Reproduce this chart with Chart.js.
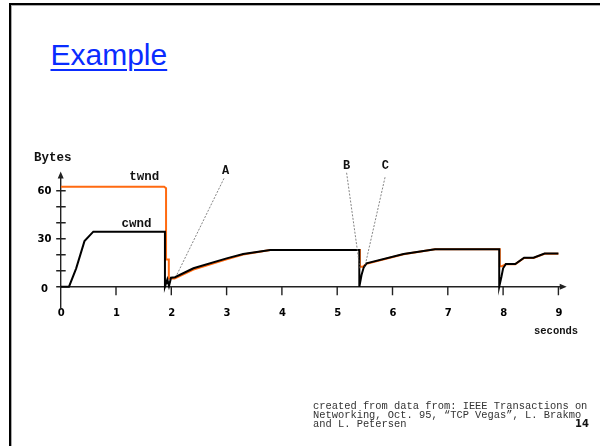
<!DOCTYPE html>
<html>
<head>
<meta charset="utf-8">
<script src="https://cdn.jsdelivr.net/npm/chart.js@4"></script>
<style>
  html, body { margin: 0; padding: 0; background: #fff; }
  body { width: 600px; height: 446px; position: relative; overflow: hidden; }
  #frame { position: absolute; left: 9px; top: 3px; width: 700px; height: 600px;
           border-top: 2px solid #000; border-left: 2px solid #000; }
  #frame::after { content: ''; position: absolute; left: 0; top: 0; right: 0; bottom: 0;
           border-top: 1px solid #aaa; border-left: 1px solid #aaa; }
  #title { position: absolute; left: 50.5px; top: 39.6px; font: 30px "Liberation Sans", Arial, sans-serif;
           line-height: 30px; color: #0a2cff; text-decoration: underline;
           text-decoration-thickness: 2px; text-underline-offset: 4px; }
  #source { position: absolute; left: 313px; top: 402.2px; font: 10.4px "Liberation Mono", monospace;
            line-height: 9px; color: #333; white-space: pre; }
  #page { position: absolute; left: 575px; top: 418.8px; font: bold 10px "DejaVu Sans", sans-serif;
          line-height: 10px; color: #111; }
  #chart { position: absolute; left: 0; top: 0; }
</style>
</head>
<body>
<div id="frame"></div>
<div id="title">Example</div>
<canvas id="chart" width="600" height="446"></canvas>
<div id="source">created from data from: IEEE Transactions on
Networking, Oct. 95, “TCP Vegas”, L. Brakmo
and L. Petersen</div>
<div id="page">14</div>
<script>
// tempo (s) e janela (bytes)
const cwndTime  = [0, 0.15, 0.28, 0.43, 0.59, 1.885, 1.885, 1.928, 1.958, 1.995, 2.067, 2.4, 3.0, 3.3, 3.79, 5.4, 5.4, 5.44, 5.48, 5.53, 6.2, 6.77, 7.93, 7.93, 7.97, 8.0, 8.05, 8.22, 8.38, 8.55, 8.75, 9.0];
const cwndBytes = [0, 0, 11.5, 28.5, 34.4, 34.4, 0, 4.6, 0.4, 5.6, 5.9, 11.5, 17.7, 20.4, 22.9, 22.9, 0, 7.3, 12.1, 14.6, 20.4, 23.4, 23.4, 0, 6.2, 11.5, 14.2, 14.2, 18.1, 18.1, 20.7, 20.7];

const twndTime  = [0, 1.87, 1.905, 1.905, 1.955, 1.955, 2.06, 2.4, 3.0, 3.3, 3.79, 5.41, 5.41, 5.46, 5.53, 6.2, 6.77, 7.94, 7.94, 7.98, 8.05, 8.22, 8.38, 8.55, 8.75, 9.0];
const twndBytes = [62.5, 62.5, 61.5, 17, 17, 5.2, 5.2, 10.7, 17.1, 20.1, 22.9, 22.9, 12.5, 12.5, 14.3, 20.3, 23.4, 23.4, 12.8, 12.8, 14.1, 14.1, 18.0, 18.0, 20.6, 20.6];

const xTickLabels = ['0', '1', '2', '3', '4', '5', '6', '7', '8', '9'];
const yTickValues = [0, 10, 20, 30, 40, 50, 60];
const yTickLabels = { 0: '0', 30: '30', 60: '60' };

// anotações em coordenadas do gráfico
const notes = [
  { text: 'A', x: 2.98, y: 70.2, from: [2.953, 67.7], to: [2.098, 7.3] },
  { text: 'B', x: 5.17, y: 73.0, from: [5.17, 71.2], to: [5.41, 11.5] },
  { text: 'C', x: 5.87, y: 73.0, from: [5.865, 68.4], to: [5.50, 12.5] }
];

function toPoints(xs, ys) {
  return xs.map((x, i) => ({ x: x, y: ys[i] }));
}

const axesPlugin = {
  id: 'axes',
  beforeDatasetsDraw(chart) {
    const c = chart.ctx, x = chart.scales.x, y = chart.scales.y;
    const x0 = x.getPixelForValue(0), y0 = y.getPixelForValue(0);
    const xEnd = x.getPixelForValue(x.max), yTop = y.getPixelForValue(y.max);
    c.save();
    c.strokeStyle = '#222';
    c.fillStyle = '#222';
    c.lineWidth = 1.4;
    c.beginPath();
    c.moveTo(x0, yTop + 4);
    c.lineTo(x0, y.getPixelForValue(-13.3));
    c.moveTo(x0, y0);
    c.lineTo(xEnd - 4, y0);
    // ticks do eixo y
    yTickValues.forEach(v => {
      const py = y.getPixelForValue(v);
      c.moveTo(x0 - 4.5, py);
      c.lineTo(x0 + 5, py);
    });
    // ticks do eixo x
    for (let i = 1; i < xTickLabels.length; i++) {
      const px = x.getPixelForValue(i);
      c.moveTo(px, y0);
      c.lineTo(px, y0 + 8.5);
    }
    c.stroke();
    // setas
    c.beginPath();
    c.moveTo(x0, yTop);
    c.lineTo(x0 - 3, yTop + 7);
    c.lineTo(x0 + 3, yTop + 7);
    c.closePath();
    c.moveTo(xEnd, y0);
    c.lineTo(xEnd - 7, y0 - 3);
    c.lineTo(xEnd - 7, y0 + 3);
    c.closePath();
    c.fill();

    c.fillStyle = '#000';
    c.font = 'bold 10px "DejaVu Sans", sans-serif';
    c.textAlign = 'center';
    c.textBaseline = 'middle';
    xTickLabels.forEach((t, i) => {
      c.fillText(t, x.getPixelForValue(i) + 0.5, y0 + 27);
    });
    Object.keys(yTickLabels).forEach(v => {
      const off = Number(v) === 0 ? 3 : 0.5;
      c.fillText(yTickLabels[v], 44.5, y.getPixelForValue(Number(v)) + off);
    });
    c.restore();
  },
  afterDatasetsDraw(chart) {
    const c = chart.ctx, x = chart.scales.x, y = chart.scales.y;
    c.save();
    c.strokeStyle = '#666';
    c.lineWidth = 0.8;
    c.setLineDash([2, 1.5]);
    notes.forEach(n => {
      c.beginPath();
      c.moveTo(x.getPixelForValue(n.from[0]), y.getPixelForValue(n.from[1]));
      c.lineTo(x.getPixelForValue(n.to[0]), y.getPixelForValue(n.to[1]));
      c.stroke();
    });
    c.setLineDash([]);
    c.fillStyle = '#111';
    c.font = 'bold 12px "Liberation Mono", "Courier New", monospace';
    c.textAlign = 'center';
    c.textBaseline = 'alphabetic';
    notes.forEach(n => {
      c.fillText(n.text, x.getPixelForValue(n.x), y.getPixelForValue(n.y) - 0.5);
    });
    c.font = 'bold 12.5px "Liberation Mono", "Courier New", monospace';
    c.textAlign = 'left';
    c.fillText('twnd', x.getPixelForValue(1.24), y.getPixelForValue(66.6));
    c.fillText('cwnd', x.getPixelForValue(1.10), y.getPixelForValue(37.2));
    c.fillText('Bytes', 34, y.getPixelForValue(78.8));
    c.font = 'bold 10.5px "Liberation Mono", "Courier New", monospace';
    c.fillText('seconds', 534, y.getPixelForValue(0) + 47);
    c.restore();
  }
};

new Chart(document.getElementById('chart').getContext('2d'), {
  type: 'line',
  data: {
    datasets: [
      {
        label: 'cwnd',
        data: toPoints(cwndTime, cwndBytes),
        borderColor: '#000',
        borderWidth: 2,
        order: 1
      },
      {
        label: 'twnd',
        data: toPoints(twndTime, twndBytes),
        borderColor: '#ff6a10',
        borderWidth: 2,
        order: 2
      }
    ]
  },
  options: {
    responsive: false,
    animation: false,
    devicePixelRatio: 1,
    elements: {
      point: { radius: 0 },
      line: { tension: 0, borderJoinStyle: 'miter', fill: false }
    },
    layout: { padding: { left: 60.7, right: 33.3, top: 171.5, bottom: 135.3 } },
    plugins: { legend: { display: false }, tooltip: { enabled: false } },
    scales: {
      x: { type: 'linear', min: 0, max: 9.15, display: false },
      y: { type: 'linear', min: -15, max: 72, display: false }
    }
  },
  plugins: [axesPlugin]
});
</script>
</body>
</html>
